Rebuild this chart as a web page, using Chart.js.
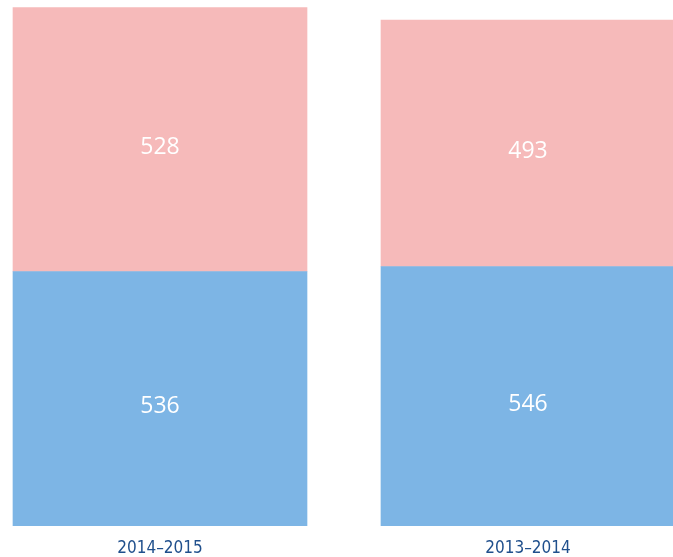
<!DOCTYPE html>
<html>
<head>
<meta charset="utf-8">
<script src="https://cdn.jsdelivr.net/npm/chart.js@4/dist/chart.umd.min.js"></script>
<style>
html, body { margin: 0; padding: 0; background: #fff; overflow: hidden; }
#zone { position: absolute; left: -24px; top: 0; width: 736px; height: 560px; }
</style>
</head>
<body>
<div id="zone"><canvas id="evo"></canvas></div>
<script>
var cursos = ["2014\u20132015", "2013\u20132014"];
var valores_azul = [536, 546];
var valores_rosa = [528, 493];

var color_azul = "#7db5e5";
var color_rosa = "#f6baba";
var color_texto = "#1f4f8c";

// escribe el valor en el centro de cada tramo
var etiquetas = {
    id: "etiquetas",
    afterDatasetsDraw: function(chart){
        var ctx = chart.ctx;
        ctx.save();
        ctx.fillStyle = "#fff";
        ctx.font = "23px 'Open Sans'";
        ctx.textAlign = "center";
        ctx.textBaseline = "middle";
        chart.data.datasets.forEach(function(ds, i){
            var meta = chart.getDatasetMeta(i);
            meta.data.forEach(function(bar, j){
                var top = Math.max(bar.y, chart.chartArea.top);
                var bottom = Math.min(bar.base, chart.chartArea.bottom);
                ctx.fillText(ds.data[j], bar.x, (top + bottom) / 2 + 8);
            });
        });
        ctx.restore();
    }
};

var data = {
    "labels": cursos,
    "datasets": [
        {
            "label": "azul",
            "data": valores_azul,
            "backgroundColor": color_azul,
            "borderWidth": 0,
            "barThickness": 294
        },
        {
            "label": "rosa",
            "data": valores_rosa,
            "backgroundColor": color_rosa,
            "borderWidth": 0,
            "barThickness": 294
        }
    ]
};

var mychart = new Chart(document.getElementById("evo"), {
    type: "bar",
    data: data,
    plugins: [etiquetas],
    options: {
        responsive: true,
        maintainAspectRatio: false,
        animation: false,
        layout: { padding: 0 },
        plugins: {
            legend: { display: false },
            tooltip: { enabled: false },
            title: { display: false }
        },
        scales: {
            x: {
                stacked: true,
                grid: { display: false },
                border: { display: false },
                afterFit: function(scale){ scale.height = 34; },
                ticks: {
                    color: color_texto,
                    padding: 4,
                    maxRotation: 0,
                    font: { family: "'DejaVu Sans Condensed', sans-serif", size: 17 }
                }
            },
            y: {
                stacked: true,
                display: false,
                min: 27,
                max: 1079
            }
        }
    }
});
</script>
</body>
</html>
